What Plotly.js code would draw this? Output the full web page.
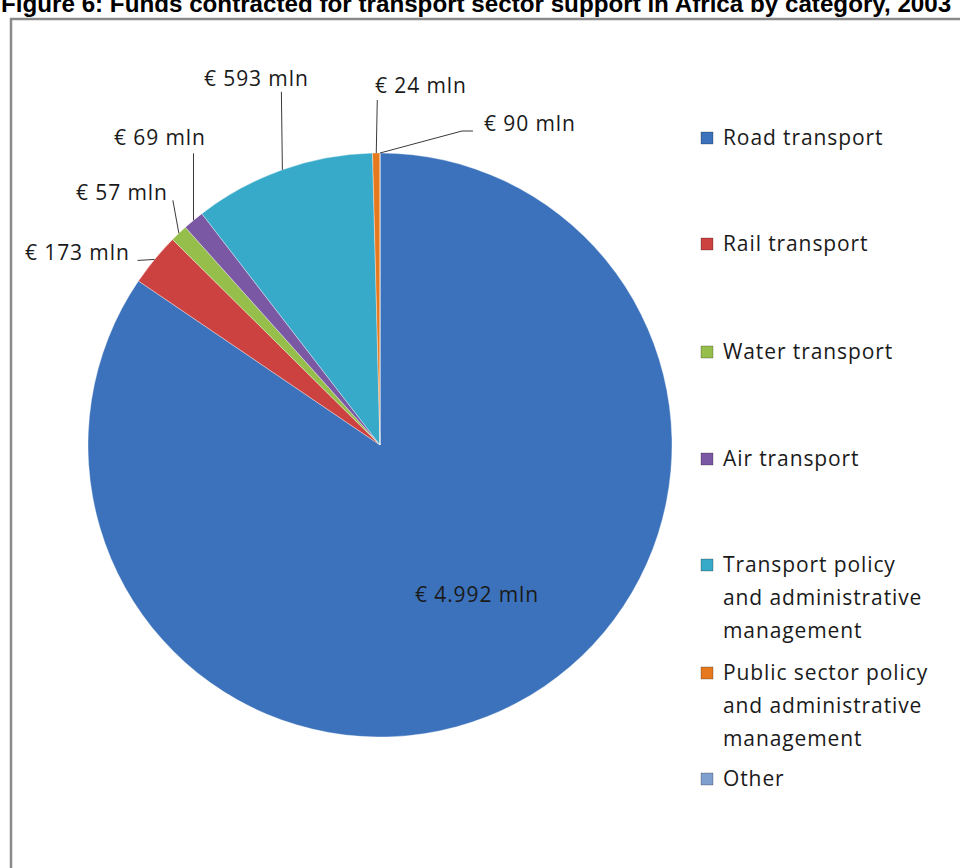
<!DOCTYPE html>
<html>
<head>
<meta charset="utf-8">
<script src="https://cdn.plot.ly/plotly-3.0.1.min.js"></script>
<style>
html,body{margin:0;padding:0;background:#fff;}
#chart{width:960px;height:868px;}
text[style*="Open Sans"]{letter-spacing:0.9px;}
</style>
</head>
<body>
<div id="chart"></div>
<script>
// ---------- data ----------
const categories = [
  "Road transport",
  "Rail transport",
  "Water transport",
  "Air transport",
  "Transport policy and administrative management",
  "Public sector policy and administrative management",
  "Other"
];
// slice sizes as drawn in the picture (the "Other" slice has no visible width)
const sliceValues = [4992, 173, 57, 69, 593, 24, 0];
// value labels as printed on the chart
const valueLabels = ["€ 4.992 mln", "€ 173 mln", "€ 57 mln", "€ 69 mln", "€ 593 mln", "€ 24 mln", "€ 90 mln"];
// legend text lines
const legendLines = [
  ["Road transport"],
  ["Rail transport"],
  ["Water transport"],
  ["Air transport"],
  ["Transport policy", "and administrative", "management"],
  ["Public sector policy", "and administrative", "management"],
  ["Other"]
];
const titleText = "Figure 6: Funds contracted for transport sector support in Africa by category, 2003";

// ---------- styles / layout constants ----------
const W = 960, H = 868;
const colors = ["#3b72bb", "#cc4240", "#95bf4a", "#7b58a4", "#38aac9", "#e6791e", "#7f9fcf"];
const FONT = "'Open Sans', Lato, sans-serif";
const FSIZE = 21;
const TXT = "#1a1a1a";
const pieCx = 380, pieCy = 445, pieR = 292;          // px
const domX = [(pieCx - pieR) / W, (pieCx + pieR) / W];
const domY = [(H - pieCy - pieR) / H, (H - pieCy + pieR) / H];
// label text-centre offsets (px) relative to the rim point of each slice
const labelOffsets = [null, [-77, -7], [-57, -41], [-33, -83], [-26, -92], [45, -68], [150, -30]];
// leader-line points (px offsets from rim point)
const leaderOffsets = [null, [[-17, 1]], [[-6, -33]], [[0, -67]], [[-1, -78]], [[1, -53]], [[82, -22], [93, -22]]];
const insideLabelOffset = [97, 149];
const legendX = 721, legendSwatchX = 701, legendSwatch = 12;
const legendTops = [137, 243, 351, 458, 564, 672, 778];
const legendLineGap = 33;

const px2x = p => p / W;
const py2y = p => 1 - p / H;

const total = sliceValues.reduce((a, b) => a + b, 0);
let cum = 0;
const midAngles = sliceValues.map(v => { const m = (cum + v / 2) / total * 360; cum += v; return m; });

const annotations = [];
const shapes = [];
// title (clipped at page top as in the reference)
annotations.push({
  text: "<b>" + titleText + "</b>", xref: "paper", yref: "paper",
  x: px2x(-1), y: py2y(3), xanchor: "left", yanchor: "middle", showarrow: false,
  font: {family: "'Liberation Sans', Arial, sans-serif", size: 24.2, color: "#000"}
});
// inside label for the large slice
annotations.push({
  text: valueLabels[0], xref: "paper", yref: "paper",
  x: px2x(pieCx + insideLabelOffset[0]), y: py2y(pieCy + insideLabelOffset[1]),
  xanchor: "center", yanchor: "middle",
  showarrow: false, font: {family: FONT, size: FSIZE, color: TXT}
});
for (let i = 1; i < sliceValues.length; i++) {
  const a = midAngles[i] * Math.PI / 180;
  const hx = pieCx + pieR * Math.sin(a), hy = pieCy - pieR * Math.cos(a);
  annotations.push({
    text: valueLabels[i], xref: "paper", yref: "paper",
    x: px2x(hx + labelOffsets[i][0]), y: py2y(hy + labelOffsets[i][1]),
    xanchor: "center", yanchor: "middle", showarrow: false,
    font: {family: FONT, size: FSIZE, color: TXT}
  });
  let path = "M" + px2x(hx) + "," + py2y(hy);
  leaderOffsets[i].forEach(p => { path += " L" + px2x(hx + p[0]) + "," + py2y(hy + p[1]); });
  shapes.push({type: "path", xref: "paper", yref: "paper", path: path,
    line: {color: "#3a3a3a", width: 1}});
}
// legend
legendLines.forEach((lines, i) => {
  lines.forEach((ln, j) => {
    annotations.push({
      text: ln, xref: "paper", yref: "paper",
      x: px2x(legendX), y: py2y(legendTops[i] + j * legendLineGap),
      xanchor: "left", yanchor: "middle", showarrow: false,
      font: {family: FONT, size: FSIZE, color: TXT}
    });
  });
  shapes.push({
    type: "rect", xref: "paper", yref: "paper",
    x0: px2x(legendSwatchX), x1: px2x(legendSwatchX + legendSwatch),
    y0: py2y(legendTops[i] - legendSwatch / 2 + 1), y1: py2y(legendTops[i] + legendSwatch / 2 + 1),
    fillcolor: colors[i], line: {color: "rgba(0,0,0,0.25)", width: 1}
  });
});
// chart border
shapes.push({
  type: "rect", xref: "paper", yref: "paper",
  x0: px2x(11), x1: px2x(990), y0: py2y(900), y1: py2y(19),
  line: {color: "#8a8a8a", width: 2.5}, fillcolor: "rgba(0,0,0,0)", layer: "below"
});

const trace = {
  type: "pie", labels: categories, values: sliceValues,
  sort: false, direction: "clockwise", rotation: 0,
  textinfo: "none", hoverinfo: "label+value",
  marker: {colors: colors, line: {color: "rgba(255,255,255,0.35)", width: 1}},
  domain: {x: domX, y: domY}, showlegend: false
};

Plotly.newPlot("chart", [trace], {
  width: W, height: H,
  margin: {l: 0, r: 0, t: 0, b: 0},
  paper_bgcolor: "#fff", plot_bgcolor: "#fff",
  showlegend: false,
  annotations: annotations, shapes: shapes
}, {displayModeBar: false, staticPlot: true});
</script>
</body>
</html>
